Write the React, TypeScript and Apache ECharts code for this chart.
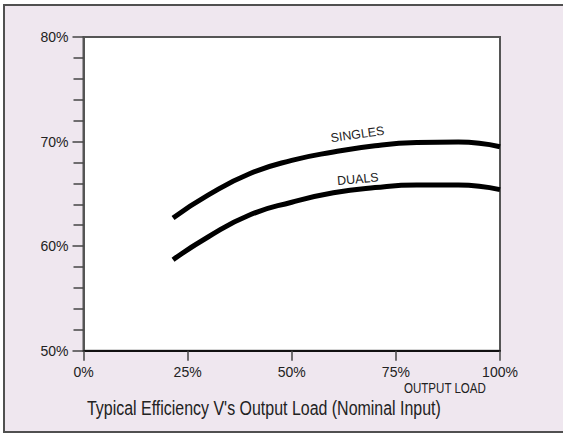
import React, { useEffect, useRef } from "react";
import * as echarts from "echarts";

const yTicks = [50, 60, 70, 80];
const xTicks = [0, 25, 50, 75, 100];

const loadX = [21.5, 30, 40, 50, 60, 70, 80, 90, 100];
const singlesY = [62.7, 64.9, 66.95, 68.2, 69.0, 69.6, 69.9, 69.95, 69.5];
const dualsY = [58.7, 60.9, 63.0, 64.2, 65.1, 65.6, 65.85, 65.85, 65.4];

const seriesNames = ["SINGLES", "DUALS"];
const labelX = 66;
const labelY = [69.4, 65.4];

const titleText = "Typical Efficiency V's Output Load (Nominal Input)";
const xName = "OUTPUT LOAD";

const FONT = "'Liberation Sans', Arial, sans-serif";

function makeSeries(idx: number, ys: number[], rotate: number, dist: number) {
  return {
    name: seriesNames[idx],
    type: "line",
    smooth: 0.5,
    silent: true,
    showSymbol: false,
    lineStyle: { color: "#000", width: 5 },
    itemStyle: { color: "#000" },
    data: loadX.map((x, i) => [x, ys[i]]),
    markPoint: {
      silent: true,
      symbol: "circle",
      symbolSize: 0,
      itemStyle: { color: "transparent" },
      data: [
        {
          coord: [labelX, labelY[idx]],
          label: {
            show: true,
            formatter: seriesNames[idx],
            position: "top",
            distance: dist,
            rotate,
            fontSize: 12.5,
            color: "#222",
            fontFamily: FONT,
          },
        },
      ],
    },
  };
}

export default function App() {
  const ref = useRef<HTMLDivElement>(null);
  useEffect(() => {
    document.body.style.margin = "0";
    const chart = echarts.init(ref.current!, null, { renderer: "svg" });
    chart.setOption({
      animation: false,
      backgroundColor: "#ffffff",
      graphic: [
        {
          type: "rect",
          z: -10,
          silent: true,
          shape: { x: 4, y: 5, width: 700, height: 427 },
          style: { fill: "#efe7ef", stroke: "#505050", lineWidth: 2 },
        },
        {
          type: "text",
          x: 87,
          y: 408,
          scaleX: 0.76,
          silent: true,
          style: {
            text: titleText,
            fontSize: 21,
            fill: "#222",
            fontFamily: FONT,
            textAlign: "left",
            textVerticalAlign: "middle",
          },
        },
        {
          type: "text",
          x: 404,
          y: 388,
          scaleX: 0.77,
          silent: true,
          style: {
            text: xName,
            fontSize: 15,
            fill: "#222",
            fontFamily: FONT,
            textAlign: "left",
            textVerticalAlign: "middle",
          },
        },
      ],
      grid: {
        left: 83.5,
        top: 37,
        right: 63,
        bottom: 84.3,
        show: true,
        backgroundColor: "#ffffff",
        borderColor: "#555",
        borderWidth: 2,
      },
      xAxis: {
        type: "value",
        min: xTicks[0],
        max: xTicks[xTicks.length - 1],
        interval: 25,
        splitLine: { show: false },
        axisLine: { show: true, lineStyle: { color: "#111", width: 2 } },
        axisTick: { show: true, length: 10, lineStyle: { color: "#444", width: 1.5 } },
        axisLabel: {
          margin: 14,
          fontSize: 14,
          color: "#222",
          fontFamily: FONT,
          formatter: "{value}%",
        },
      },
      yAxis: {
        type: "value",
        min: yTicks[0],
        max: yTicks[yTicks.length - 1],
        interval: 10,
        splitLine: { show: false },
        axisLine: { show: true, lineStyle: { color: "#555", width: 2 } },
        axisTick: { show: true, length: 11, lineStyle: { color: "#444", width: 1.5 } },
        minorTick: { show: true, splitNumber: 5, length: 10, lineStyle: { color: "#444", width: 1.5 } },
        axisLabel: {
          margin: 15,
          fontSize: 14,
          color: "#222",
          fontFamily: FONT,
          formatter: "{value}%",
        },
      },
      series: [makeSeries(0, singlesY, 8, 7), makeSeries(1, dualsY, 5, 4)],
    });
    return () => chart.dispose();
  }, []);
  return <div ref={ref} style={{ width: 563, height: 435 }} />;
}
